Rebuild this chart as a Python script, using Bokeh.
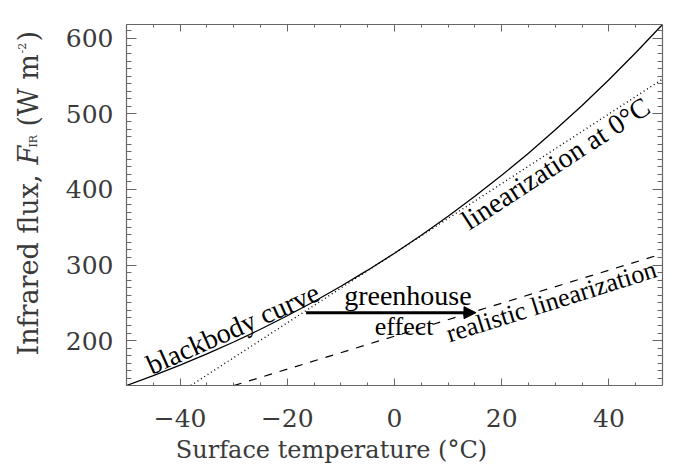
import math
from bokeh.plotting import figure
from bokeh.layouts import row, column
from bokeh.models import (Range1d, LinearAxis, SingleIntervalTicker, Label, Arrow,
                          NormalHead, CustomJSTickFormatter)
from bokeh.embed import file_html
from bokeh.resources import INLINE

# ---- data ----
temp_c = [-50, -45, -40, -35, -30, -25, -20, -15, -10, -5, 0,
          5, 10, 15, 20, 25, 30, 35, 40, 45, 50]
blackbody_flux = [140.6, 153.6, 167.5, 182.4, 198.2, 215.0, 232.9, 251.8, 271.9, 293.2, 315.6,
                  339.4, 364.5, 390.9, 418.7, 448.0, 478.9, 511.2, 545.2, 580.9, 618.3]
lin0_temp = [-38, 50]
lin0_flux = [140.6, 546.0]
real_temp = [-30, 50]
real_flux = [140.4, 315.0]
x_ticks_interval = 20
y_ticks_interval = 100

X0, X1 = -50, 50
Y0, Y1 = 140.6, 618.3

AX = "#666666"
TXT = "#3a3a3a"
TICKFONT = "DejaVu Serif"
ANNFONT = "Liberation Serif"

YLAB_W = 52
TOP_B = 24
FRAME_H = 361
BOT_B = 50
MAIN_H = TOP_B + FRAME_H + BOT_B
XLAB_H = 32
RIGHT_B = 25

yr = Range1d(Y0, Y1)
p = figure(frame_width=536, frame_height=FRAME_H, output_backend="svg", toolbar_location=None,
           title=None, x_range=Range1d(X0, X1), y_range=yr,
           x_axis_type=None, y_axis_type=None)
p.min_border_left = 126 - YLAB_W
p.min_border_right = RIGHT_B
p.min_border_top = TOP_B
p.min_border_bottom = BOT_B
p.outline_line_color = None
p.xgrid.visible = False
p.ygrid.visible = False
p.background_fill_color = "white"
p.border_fill_color = "white"

blank = CustomJSTickFormatter(code="return ''")

def style_axis(ax, is_x, labels):
    ax.ticker = SingleIntervalTicker(interval=x_ticks_interval if is_x else y_ticks_interval,
                                     num_minor_ticks=4 if is_x else 10)
    ax.axis_line_color = AX
    ax.axis_line_width = 1.2
    ax.major_tick_line_color = AX
    ax.minor_tick_line_color = AX
    ax.major_tick_out = 0
    ax.minor_tick_out = 0
    ax.major_tick_in = 7 if is_x else 10
    ax.minor_tick_in = 3 if is_x else 5
    if labels:
        ax.major_label_text_font = TICKFONT
        ax.major_label_text_font_size = "25px"
        ax.major_label_text_color = TXT
        ax.major_label_standoff = 23 if is_x else 13
    else:
        ax.formatter = blank
        ax.major_label_standoff = 0
        ax.major_label_text_font_size = "1px"

bottom = LinearAxis(); style_axis(bottom, True, True); p.add_layout(bottom, "below")
top = LinearAxis(); style_axis(top, True, False); p.add_layout(top, "above")
left = LinearAxis(); style_axis(left, False, True); p.add_layout(left, "left")
right = LinearAxis(); style_axis(right, False, False); p.add_layout(right, "right")

# ---- curves ----
p.line(temp_c, blackbody_flux, line_color="black", line_width=1.3)
p.line(lin0_temp, lin0_flux, line_color="black", line_width=1.4, line_dash="1 3")
p.line(real_temp, real_flux, line_color="black", line_width=1.2, line_dash="8 8")

# ---- annotations (anchor = centre line of the text) ----
def ann(text, x, y, angle_deg=0, size="28px", align="left"):
    p.add_layout(Label(x=x, y=y, text=text, angle=math.radians(angle_deg),
                       text_font=ANNFONT, text_font_size=size, text_color="black",
                       text_align=align, text_baseline="middle"))

ann("blackbody curve", -46.0, 166.0, 24)
ann("linearization at 0\u00b0C", 13.0, 356.0, 33)
ann("realistic linearization", 9.8, 208.3, 17.5, size="26px")
ann("greenhouse", 2.5, 259.3, 0, align="center")
ann("effect", 1.8, 219.0, 0, size="26px", align="center")

p.add_layout(Arrow(x_start=-16.5, y_start=237.0, x_end=15.2, y_end=237.0,
                   line_color="black", line_width=3,
                   end=NormalHead(size=12, fill_color="black", line_color="black")))

def blank_fig(w, h, x_range, y_range):
    f = figure(width=w, height=h, output_backend="svg", toolbar_location=None, title=None,
               x_range=x_range, y_range=y_range, x_axis_type=None, y_axis_type=None)
    f.min_border_left = 0
    f.min_border_right = 0
    f.min_border_top = 0
    f.min_border_bottom = 0
    f.outline_line_color = None
    f.xgrid.visible = False
    f.ygrid.visible = False
    f.background_fill_color = "white"
    f.border_fill_color = "white"
    return f

# ---- y-axis title panel (shares the flux range) ----
fy = blank_fig(YLAB_W, MAIN_H, Range1d(0, YLAB_W), yr)
fy.min_border_top = TOP_B
fy.min_border_bottom = BOT_B
ylab = [
    ("Infrared flux,", 180.3, 27.7, "27px", "normal"),
    ("F", 433.0, 27.7, "27px", "italic"),
    ("IR", 455.5, 33.2, "11px", "normal"),
    ("(W m", 483.3, 27.7, "27px", "normal"),
    ("-2", 579.9, 21.2, "11px", "normal"),
    (")", 595.8, 27.7, "27px", "normal"),
]
for t, yy, xx, sz, st in ylab:
    fy.add_layout(Label(x=xx, y=yy, text=t, angle=math.pi / 2,
                        text_font=TICKFONT, text_font_size=sz, text_font_style=st,
                        text_color=TXT, text_align="left", text_baseline="middle"))

# ---- x-axis title panel ----
total_w = 126 + 536 + RIGHT_B
fx = blank_fig(total_w, XLAB_H, Range1d(0, total_w), Range1d(0, XLAB_H))
fx.add_layout(Label(x=331, y=17.7, text="Surface temperature (\u00b0C)",
                    text_font=TICKFONT, text_font_size="24px", text_color=TXT,
                    text_align="center", text_baseline="middle"))

layout = column(row(fy, p), fx)
open("out.html", "w").write(file_html(layout, INLINE))
